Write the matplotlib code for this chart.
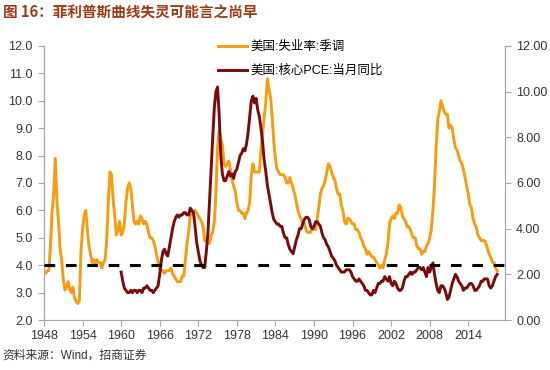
import numpy as np
import matplotlib
matplotlib.use('Agg')
import matplotlib.pyplot as plt

plt.rcParams['font.family'] = ['Liberation Sans', 'Noto Sans CJK SC', 'DejaVu Sans']

# 美国失业率（季调），季度，1948Q1 起
unrate = [
    3.7, 3.7, 3.8, 3.8,  4.7, 5.9, 6.6, 7.9,  6.4, 5.6, 4.6, 4.2,
    3.5, 3.1, 3.2, 3.4,  3.1, 3.0, 3.2, 2.8,  2.7, 2.6, 2.7, 4.5,
    5.3, 5.8, 6.0, 5.3,  4.7, 4.4, 4.1, 4.2,  4.0, 4.2, 4.1, 4.1,
    3.9, 4.1, 4.2, 4.9,  6.3, 7.4, 7.3, 6.4,  5.8, 5.1, 5.3, 5.6,
    5.1, 5.2, 5.5, 6.3,  6.8, 7.0, 6.8, 6.2,  5.6, 5.5, 5.6, 5.5,
    5.8, 5.7, 5.5, 5.6,  5.5, 5.2, 5.0, 5.0,  4.9, 4.7, 4.4, 4.1,
    3.9, 3.8, 3.8, 3.7,  3.8, 3.8, 3.8, 3.9,  3.7, 3.6, 3.5, 3.4,
    3.4, 3.4, 3.6, 3.6,  4.2, 4.8, 5.2, 5.8,  5.9, 5.9, 6.0, 5.9,
    5.8, 5.7, 5.6, 5.4,  4.9, 4.9, 4.8, 4.8,  5.1, 5.2, 5.6, 6.6,
    8.3, 8.9, 8.6, 8.4,  7.7, 7.6, 7.7, 7.8,  7.5, 7.1, 6.9, 6.7,
    6.3, 6.0, 6.0, 5.9,  5.9, 5.7, 5.9, 6.0,  6.3, 7.3, 7.7, 7.4,
    7.4, 7.4, 7.4, 8.2,  8.8, 9.4, 9.9, 10.8, 10.4, 10.1, 9.4, 8.5,
    7.9, 7.5, 7.4, 7.3,  7.3, 7.3, 7.2, 7.0,  7.0, 7.2, 7.0, 6.8,
    6.6, 6.3, 6.0, 5.8,  5.7, 5.5, 5.5, 5.3,  5.2, 5.2, 5.2, 5.4,
    5.3, 5.3, 5.7, 6.1,  6.6, 6.8, 6.9, 7.1,  7.4, 7.7, 7.6, 7.4,
    7.2, 7.1, 6.8, 6.6,  6.6, 6.2, 6.0, 5.6,  5.5, 5.7, 5.7, 5.6,
    5.5, 5.5, 5.3, 5.3,  5.2, 5.0, 4.9, 4.7,  4.6, 4.4, 4.5, 4.4,
    4.3, 4.3, 4.2, 4.1,  4.0, 3.9, 4.0, 3.9,  4.2, 4.4, 4.8, 5.5,
    5.7, 5.8, 5.7, 5.9,  5.9, 6.2, 6.1, 5.8,  5.7, 5.6, 5.4, 5.4,
    5.3, 5.1, 5.0, 5.0,  4.7, 4.6, 4.6, 4.4,  4.5, 4.5, 4.7, 4.8,
    5.0, 5.3, 6.0, 6.9,  8.3, 9.3, 9.6, 10.0, 9.8, 9.6, 9.5, 9.5,
    9.0, 9.1, 9.0, 8.6,  8.3, 8.2, 8.0, 7.8,  7.7, 7.5, 7.2, 6.9,
    6.6, 6.2, 6.1, 5.7,  5.5, 5.4, 5.1, 5.0,  4.9, 4.9, 4.9, 4.8,
    4.6, 4.4, 4.3, 4.1,  4.1, 3.9, 3.8,
]

# 美国核心PCE当月同比，季度，1960Q1 起
core_pce = [
    2.1, 1.7, 1.4, 1.3,  1.2, 1.2, 1.3, 1.2,  1.3, 1.3, 1.2, 1.3,
    1.3, 1.2, 1.4, 1.4,  1.5, 1.4, 1.3, 1.3,  1.2, 1.3, 1.4, 1.5,
    2.0, 2.6, 3.0, 3.1,  2.9, 2.8, 3.2, 3.6,  4.0, 4.3, 4.5, 4.6,
    4.5, 4.6, 4.6, 4.7,  4.7, 4.6, 4.6, 4.9,  4.8, 4.7, 4.1, 3.4,
    3.0, 2.6, 2.4, 2.3,  2.3, 3.0, 3.8, 5.2,  6.6, 8.0, 9.3, 10.0,
    10.2, 9.0, 7.2, 6.4, 6.1, 6.1, 6.3, 6.5,  6.3, 6.4, 6.2, 6.5,
    6.6, 6.9, 7.2, 7.3,  7.5, 7.4, 7.7, 8.2,  8.9, 9.6, 9.8, 9.5,
    9.7, 9.2, 8.9, 8.4,  7.8, 7.0, 6.5, 5.9,  5.5, 5.1, 4.7, 4.4,
    4.3, 4.2, 4.2, 4.1,  4.1, 3.8, 3.6, 3.6,  3.3, 3.1, 3.0, 2.9,
    3.2, 3.5, 3.7, 4.0,  4.0, 4.2, 4.4, 4.5,  4.5, 4.4, 4.1, 4.0,
    4.1, 4.3, 4.3, 4.2,  4.1, 3.8, 3.6, 3.5,  3.3, 3.2, 3.0, 2.8,
    2.7, 2.6, 2.4, 2.3,  2.2, 2.1, 2.1, 2.1,  2.2, 2.2, 2.2, 2.1,
    1.9, 1.8, 1.7, 1.7,  1.8, 1.7, 1.6, 1.5,  1.3, 1.3, 1.2, 1.1,
    1.1, 1.3, 1.2, 1.4,  1.6, 1.6, 1.7, 1.7,  1.9, 1.8, 1.7, 1.9,
    1.6, 1.5, 1.7, 1.6,  1.4, 1.3, 1.3, 1.4,  1.7, 1.9, 1.9, 2.0,
    2.1, 2.0, 2.1, 2.1,  2.2, 2.3, 2.3, 2.2,  2.3, 2.1, 1.9, 2.3,
    2.1, 2.3, 2.5, 2.0,  1.6, 1.3, 1.2, 1.5,  1.5, 1.4, 1.2, 0.9,
    1.0, 1.3, 1.6, 1.8,  2.0, 1.9, 1.7, 1.6,  1.5, 1.3, 1.4, 1.4,
    1.5, 1.6, 1.6, 1.5,  1.3, 1.3, 1.4, 1.5,  1.7, 1.7, 1.8, 1.8,
    1.8, 1.5, 1.4, 1.5,  1.7, 1.9, 2.0,
]

t_unrate = 1948 + np.arange(len(unrate)) / 4.0
t_pce = 1960 + np.arange(len(core_pce)) / 4.0

year_ticks = [1948, 1954, 1960, 1966, 1972, 1978, 1984, 1990, 1996, 2002, 2008, 2014]

orange = '#F89B0E'
darkred = '#7B0A0A'
grey = '#A6A6A6'

fig = plt.figure(figsize=(5.5, 3.7), dpi=100)
ax = fig.add_axes([0.08, 0.135, 0.838, 0.741])
ax2 = ax.twinx()

l1, = ax.plot(t_unrate, unrate, color=orange, lw=2.1, label='美国:失业率:季调', zorder=2)
l2, = ax2.plot(t_pce, core_pce, color=darkred, lw=2.1, label='美国:核心PCE:当月同比', zorder=2)
ax2.axhline(12 * 0.2, color='black', lw=2.2, ls=(0, (3.5, 3.5)), zorder=5)

ax.set_xlim(1948, 2019.7)
ax.set_ylim(2, 12)
ax2.set_ylim(0, 12)
ax.set_yticks(np.arange(2, 12.1, 1))
ax.set_yticklabels(['%.1f' % v for v in np.arange(2, 12.1, 1)])
ax2.set_yticks(np.arange(0, 12.1, 2))
ax2.set_yticklabels(['%.2f' % v for v in np.arange(0, 12.1, 2)])
ax.set_xticks(year_ticks)
ax.set_xticklabels([str(y) for y in year_ticks])

for a in (ax, ax2):
    a.spines['top'].set_visible(False)
    for s in ('left', 'right', 'bottom'):
        a.spines[s].set_color(grey)
        a.spines[s].set_linewidth(0.8)
    a.tick_params(colors=grey, labelcolor='#333333', labelsize=9, length=4, width=0.8)
ax.tick_params(axis='y', pad=4)
ax2.tick_params(axis='y', pad=4)

leg = fig.legend(handles=[l1, l2], loc='upper left', bbox_to_anchor=(0.388, 0.903),
                 frameon=False, fontsize=9, handlelength=2.3, handletextpad=0.3,
                 labelspacing=0.95, borderaxespad=0)

fig.text(0.005, 0.965, '图 16：菲利普斯曲线失灵可能言之尚早', fontsize=10.5, fontweight='bold',
         color='#9C3A14', va='center', ha='left', family=['Noto Sans CJK SC'])
fig.text(0.005, 0.04, '资料来源：Wind，招商证券', fontsize=8.5, color='#333333',
         va='center', ha='left')

fig.savefig('out.png', dpi=100)
